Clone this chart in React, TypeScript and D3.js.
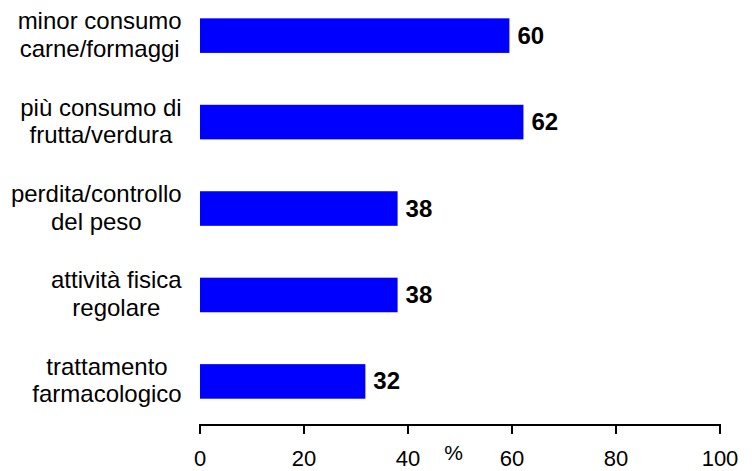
import React from "react";
import * as d3 from "d3";

const categories: string[][] = [
  ["minor consumo", "carne/formaggi"],
  ["più consumo di", "frutta/verdura"],
  ["perdita/controllo", "del peso"],
  ["attività fisica", "regolare"],
  ["trattamento", "farmacologico"],
];
const values: number[] = [59.5, 62.2, 38, 38, 31.8];
const xTicks: number[] = [0, 20, 40, 60, 80, 100];
const axisTitle = "%";

const W = 752;
const H = 471;
const FONT = "'Liberation Sans', Arial, sans-serif";

function measure(text: string, font: string): number {
  const c = document.createElement("canvas");
  const ctx = c.getContext("2d")!;
  ctx.font = font;
  return ctx.measureText(text).width;
}

export default function App() {
  const x = d3.scaleLinear().domain([0, 100]).range([200, 720]);
  const keys = categories.map((c) => c.join(" "));
  const y = d3
    .scaleBand<string>()
    .domain(keys)
    .range([-7.6, 424.65])
    .paddingInner(0.6)
    .paddingOuter(0.3);
  const axisY = 425;
  const labelRight = 181.7;
  const lineH = 27.5;

  return (
    <svg
      width={W}
      height={H}
      style={{ position: "absolute", left: 0, top: 0, background: "#fff" }}
      fontFamily={FONT}
    >
      {categories.map((lines, i) => {
        const k = keys[i];
        const y0 = y(k)!;
        const bw = y.bandwidth();
        const cy = y0 + bw / 2;
        const maxW = Math.max(...lines.map((l) => measure(l, `24px ${FONT}`)));
        const cx = labelRight - maxW / 2;
        return (
          <g key={k}>
            <rect
              x={x(0)}
              y={y0}
              width={x(values[i]) - x(0)}
              height={bw}
              fill="#0000FF"
            />
            <text
              x={x(values[i]) + 8}
              y={cy + 8}
              fontSize={24}
              fontWeight="bold"
              fill="#000"
            >
              {Math.round(values[i])}
            </text>
            {lines.map((l, j) => (
              <text
                key={j}
                x={cx}
                y={cy - 6.5 + j * lineH}
                fontSize={24}
                textAnchor="middle"
                fill="#000"
              >
                {l}
              </text>
            ))}
          </g>
        );
      })}
      <line
        x1={x(0)}
        x2={x(100)}
        y1={axisY}
        y2={axisY}
        stroke="#000"
        strokeWidth={2}
      />
      {xTicks.map((t) => (
        <g key={t}>
          <line
            x1={x(t)}
            x2={x(t)}
            y1={axisY - 1}
            y2={axisY + 9}
            stroke="#000"
            strokeWidth={2}
          />
          <text
            x={x(t)}
            y={466}
            fontSize={22}
            textAnchor="middle"
            fill="#000"
          >
            {t}
          </text>
        </g>
      ))}
      <text x={453.5} y={460} fontSize={21} textAnchor="middle" fill="#000">
        {axisTitle}
      </text>
    </svg>
  );
}
